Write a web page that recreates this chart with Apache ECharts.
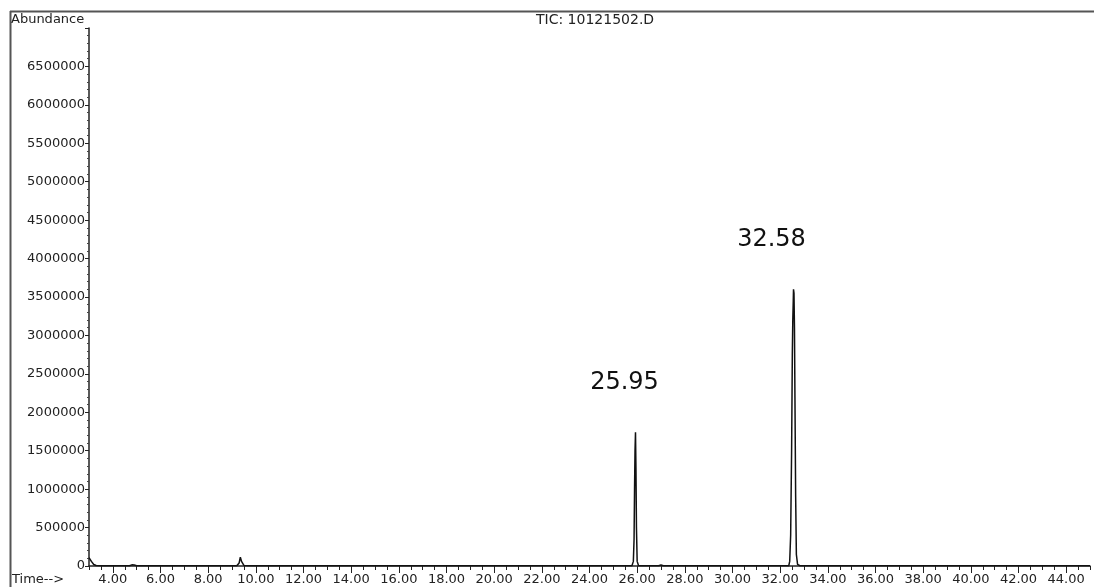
<!DOCTYPE html>
<html>
<head>
<meta charset="utf-8">
<script src="https://cdn.jsdelivr.net/npm/echarts@6/dist/echarts.min.js"></script>
<style>
  html, body { margin: 0; padding: 0; background: #fff; }
  #chart-container { width: 1094px; height: 587px; }
</style>
</head>
<body>
<div id="chart-container"></div>
<script>
const tiempos = [
  3.00, 3.05, 3.10, 3.20, 3.30, 3.50, 4.00, 4.70, 4.80, 4.85, 4.90, 5.00,
  5.70, 5.78, 5.85, 6.50, 8.00, 9.20, 9.30, 9.35, 9.40, 9.50, 9.70, 9.95,
  10.02, 10.10, 12.00, 16.00, 20.00, 24.00, 25.78, 25.84, 25.87, 25.89,
  25.91, 25.93, 25.95, 25.97, 26.00, 26.06, 26.90, 27.00, 27.10, 30.00,
  32.36, 32.40, 32.44, 32.48, 32.51, 32.53, 32.55, 32.56, 32.58, 32.60,
  32.62, 32.65, 32.68, 32.73, 32.83, 35.00, 40.00, 45.00
];
const abundancia = [
  110000, 95000, 60000, 20000, 6000, 3000, 3000, 3000, 15000, 28000, 12000, 3000,
  3000, 16000, 3000, 3000, 3000, 3000, 40000, 115000, 60000, 8000, 3000, 3000,
  12000, 3000, 3000, 3000, 3000, 3000, 3000, 60000, 350000, 1000000,
  1500000, 1740000, 1250000, 500000, 60000, 3000, 3000, 12000, 3000, 3000,
  3000, 60000, 400000, 1500000, 2750000, 3200000, 3450000, 3600000, 3550000, 3100000,
  2200000, 900000, 150000, 20000, 3000, 3000, 3000, 3000
];

const picosTiempo = [25.93, 32.56];
const picosAltura = [1740000, 3600000];
const picosTexto = ['25.95', '32.58'];
const picosOffset = [[-11, -50], [-22, -50]];

const etiquetasX = [4, 6, 8, 10, 12, 14, 16, 18, 20, 22, 24, 26, 28, 30, 32, 34, 36, 38, 40, 42, 44];

let marcasX = [];
for (let t = 3; t <= 45; t += 0.5) marcasX.push(t);

const fuente = 'DejaVu Sans';
const colorTexto = '#222';

let myChart = echarts.init(document.getElementById('chart-container'), null, {
  renderer: 'canvas'
});

const opciones = {
  animation: false,
  backgroundColor: '#fff',
  grid: { left: 89, right: 4, top: 28, bottom: 21, containLabel: false },
  graphic: [
    { type: 'line', shape: { x1: 10, y1: 11.5, x2: 1094, y2: 11.5 }, style: { stroke: '#555', lineWidth: 2 } },
    { type: 'line', shape: { x1: 10.5, y1: 11, x2: 10.5, y2: 587 }, style: { stroke: '#555', lineWidth: 2 } },
    { type: 'text', left: 11, top: 13, style: { text: 'Abundance', font: '13px "DejaVu Sans"', fill: colorTexto } },
    { type: 'text', left: 536, top: 13, style: { text: 'TIC: 10121502.D', font: '14px "DejaVu Sans"', fill: colorTexto } },
    { type: 'text', left: 12, top: 573, style: { text: 'Time-->', font: '13px "DejaVu Sans"', fill: colorTexto } }
  ],
  xAxis: [{
    type: 'value',
    min: 3,
    max: 45,
    axisLine: { lineStyle: { color: '#222', width: 1.5 } },
    axisTick: { show: true, customValues: marcasX, length: 4, lineStyle: { color: '#222' } },
    axisLabel: {
      customValues: etiquetasX,
      formatter: v => v.toFixed(2),
      margin: 7,
      fontFamily: fuente,
      fontSize: 13,
      color: colorTexto
    },
    splitLine: { show: false }
  }, {
    type: 'value',
    min: 3,
    max: 45,
    position: 'bottom',
    axisLine: { show: false },
    axisTick: { show: true, customValues: etiquetasX, length: 7, lineStyle: { color: '#222' } },
    axisLabel: { show: false },
    splitLine: { show: false }
  }],
  yAxis: {
    type: 'value',
    min: 0,
    max: 7000000,
    interval: 500000,
    axisLine: { show: true, lineStyle: { color: '#222', width: 1.5 } },
    axisTick: { show: true, length: 4, lineStyle: { color: '#222' } },
    minorTick: { show: true, splitNumber: 5, length: 2, lineStyle: { color: '#444' } },
    axisLabel: {
      showMaxLabel: false,
      formatter: v => String(v),
      margin: 4,
      fontFamily: fuente,
      fontSize: 13,
      color: colorTexto
    },
    splitLine: { show: false }
  },
  series: [{
    type: 'line',
    xAxisIndex: 0,
    data: tiempos.map((t, i) => [t, abundancia[i]]),
    showSymbol: false,
    lineStyle: { color: '#111', width: 1.5 },
    markPoint: {
      symbol: 'circle',
      symbolSize: 0,
      data: picosTiempo.map((t, i) => ({
        coord: [t, picosAltura[i]],
        value: picosTexto[i],
        label: {
          show: true,
          formatter: picosTexto[i],
          offset: picosOffset[i],
          fontFamily: fuente,
          fontSize: 24,
          color: '#111'
        }
      }))
    }
  }]
};

myChart.setOption(opciones);
window.addEventListener('resize', myChart.resize);
</script>
</body>
</html>
